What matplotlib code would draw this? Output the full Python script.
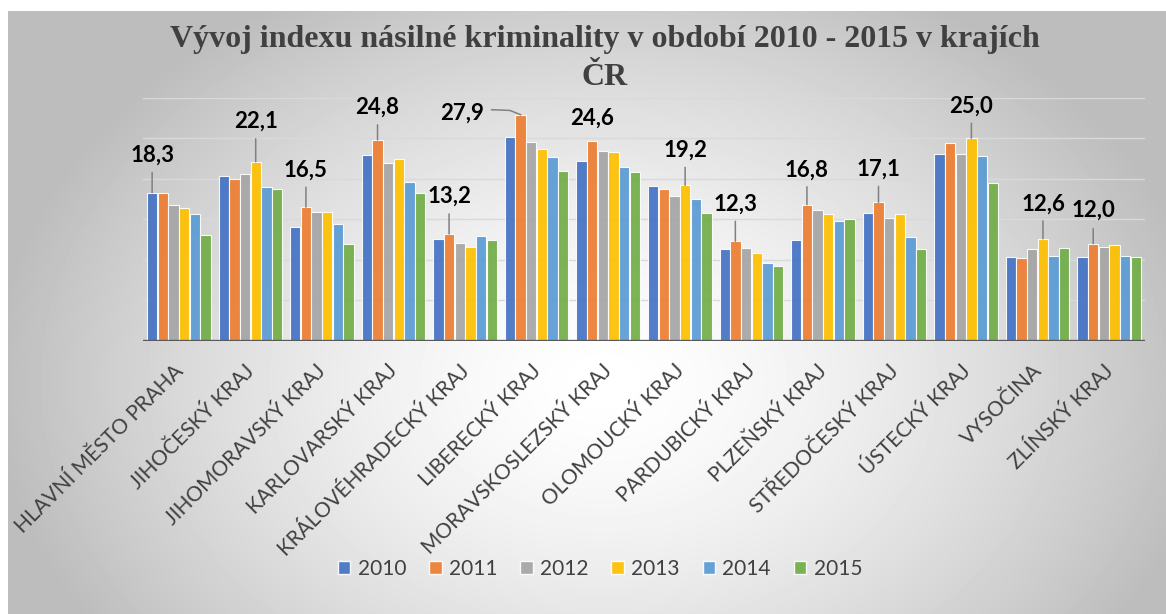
import numpy as np
import matplotlib
matplotlib.use("Agg")
import matplotlib.pyplot as plt
from matplotlib.patches import Patch
import matplotlib.transforms as mtrans

# data
regions = ["HLAVNÍ MĚSTO PRAHA", "JIHOČESKÝ KRAJ", "JIHOMORAVSKÝ KRAJ", "KARLOVARSKÝ KRAJ",
           "KRÁLOVÉHRADECKÝ KRAJ", "LIBERECKÝ KRAJ", "MORAVSKOSLEZSKÝ KRAJ", "OLOMOUCKÝ KRAJ",
           "PARDUBICKÝ KRAJ", "PLZEŇSKÝ KRAJ", "STŘEDOČESKÝ KRAJ", "ÚSTECKÝ KRAJ",
           "VYSOČINA", "ZLÍNSKÝ KRAJ"]
years = ["2010", "2011", "2012", "2013", "2014", "2015"]
v2010 = [18.3, 20.4, 14.0, 22.9, 12.6, 25.1, 22.2, 19.1, 11.3, 12.5, 15.8, 23.0, 10.4, 10.4]
v2011 = [18.2, 20.0, 16.5, 24.8, 13.2, 27.9, 24.6, 18.8, 12.3, 16.8, 17.1, 24.4, 10.2, 12.0]
v2012 = [16.8, 20.6, 15.9, 21.9, 12.1, 24.5, 23.4, 17.9, 11.5, 16.1, 15.2, 23.0, 11.4, 11.6]
v2013 = [16.4, 22.1, 15.9, 22.5, 11.6, 23.7, 23.3, 19.2, 10.9, 15.7, 15.7, 25.0, 12.6, 11.8]
v2014 = [15.6, 19.0, 14.4, 19.6, 12.9, 22.7, 21.4, 17.5, 9.6, 14.8, 12.8, 22.8, 10.5, 10.5]
v2015 = [13.1, 18.8, 12.0, 18.3, 12.5, 21.0, 20.8, 15.8, 9.2, 15.1, 11.4, 19.5, 11.5, 10.4]
series = [v2010, v2011, v2012, v2013, v2014, v2015]
colors = ["#4472C4", "#ED7D31", "#A5A5A5", "#FFC000", "#5B9BD5", "#70AD47"]

# leader line length / text gap above the labelled bar (pixels)
lead_len = [20, 23, 20, 15, 20, 0, 0, 18, 20, 18, 16, 15, 18, 15]
text_gap = [31, 34, 30, 26, 31, 0, 17, 29, 31, 28, 27, 26, 28, 27]

W, H = 1166, 614
fig = plt.figure(figsize=(W / 100, H / 100), dpi=100)
fig.patch.set_facecolor("white")

# radial gradient background of the chart area
bg = fig.add_axes([8 / W, 0, 1 - 8 / W, 1 - 11 / H])
bw, bh = W - 8, H - 11
X, Y = np.meshgrid(np.arange(bw), np.arange(bh))
r = np.sqrt(((X - 595) / 640.0) ** 2 + ((Y - 370) / 470.0) ** 2)
val = np.clip(1 - 0.28 * r ** 1.5, 0.74, 1.0)
bg.imshow(val, cmap="gray", vmin=0, vmax=1, aspect="auto", interpolation="bilinear")
bg.set_axis_off()
bg.set_zorder(-10)

ax = fig.add_axes([143 / W, 1 - 341 / H, (1145 - 143) / W, (341 - 97.7) / H])
ax.patch.set_alpha(0)
n = len(regions)
xs = np.arange(n)
step = 0.149
for j, vals in enumerate(series):
    ax.bar(xs + (j - 2.5) * step, vals, width=0.145, color=colors[j], alpha=0.92,
           edgecolor=(1, 1, 1, 0.6), linewidth=0.8, zorder=3, label=years[j])

ax.set_xlim(-0.5, n - 0.5)
ax.set_ylim(0, 30)
ax.set_yticks([5, 10, 15, 20, 25, 30])
ax.yaxis.grid(True, color="#d9d9d9", linewidth=1.0, zorder=0)
ax.tick_params(axis="y", left=False, labelleft=False)
ax.tick_params(axis="x", bottom=False, pad=15)
for s in ax.spines.values():
    s.set_visible(False)
ax.axhline(0, color="#595959", linewidth=2.4, zorder=4)

ax.set_xticks(xs)
ax.set_xticklabels(regions, rotation=45, ha="right", va="top", rotation_mode="anchor",
                   fontsize=15, family="Lato", color="#404040")
shift = mtrans.ScaledTranslation(-6 / 100, 6 / 100, fig.dpi_scale_trans)
for lbl in ax.get_xticklabels():
    lbl.set_transform(lbl.get_transform() + shift)

# data labels on the highest bar of each region
data = np.array(series)
for i in range(n):
    j = int(np.argmax(data[:, i]))
    v = data[j, i]
    bx = i + (j - 2.5) * step
    txt = f"{v:.1f}".replace(".", ",")
    if i == 5:
        p = ax.transData.transform((bx, v))
        pts = p + np.array([[0, 0], [-10.7, 4.3], [-29, 5]])
        ax.plot(pts[:, 0], pts[:, 1], color="#808080", lw=1.1,
                transform=mtrans.IdentityTransform(), zorder=5)
        ax.annotate(txt, xy=(bx, v), xytext=(-37, 2), textcoords="offset pixels",
                    ha="right", va="center", fontsize=16, weight="bold", family="Lato",
                    color="black", zorder=6)
        continue
    if lead_len[i] > 0:
        ax.annotate("", xy=(bx, v), xytext=(0, lead_len[i]), textcoords="offset pixels",
                    arrowprops=dict(arrowstyle="-", color="#808080", lw=1.1,
                                    shrinkA=0, shrinkB=0), zorder=5)
    ax.annotate(txt, xy=(bx, v), xytext=(0, text_gap[i]), textcoords="offset pixels",
                ha="center", va="baseline", fontsize=16, weight="bold", family="Lato",
                color="black", zorder=6)

fig.text(604.5 / W, 1 - 47 / H, "Vývoj indexu násilné kriminality v období 2010 - 2015 v krajích",
         ha="center", va="baseline", family="Liberation Serif", weight="bold",
         fontsize=23, color="#404040")
fig.text(604.5 / W, 1 - 85 / H, "ČR", ha="center", va="baseline", family="Liberation Serif",
         weight="bold", fontsize=23, color="#404040")

handles = [Patch(facecolor=c, edgecolor=(1, 1, 1, 0.6), alpha=0.92) for c in colors]
leg = fig.legend(handles, years, loc="center", bbox_to_anchor=(600 / W, 1 - 569 / H),
                 ncol=6, frameon=False, handlelength=0.6, handleheight=0.6,
                 handletextpad=0.35, columnspacing=1.1,
                 prop={"family": "Lato", "size": 15})
for t in leg.get_texts():
    t.set_color("#404040")

fig.savefig("out.png", dpi=100)
